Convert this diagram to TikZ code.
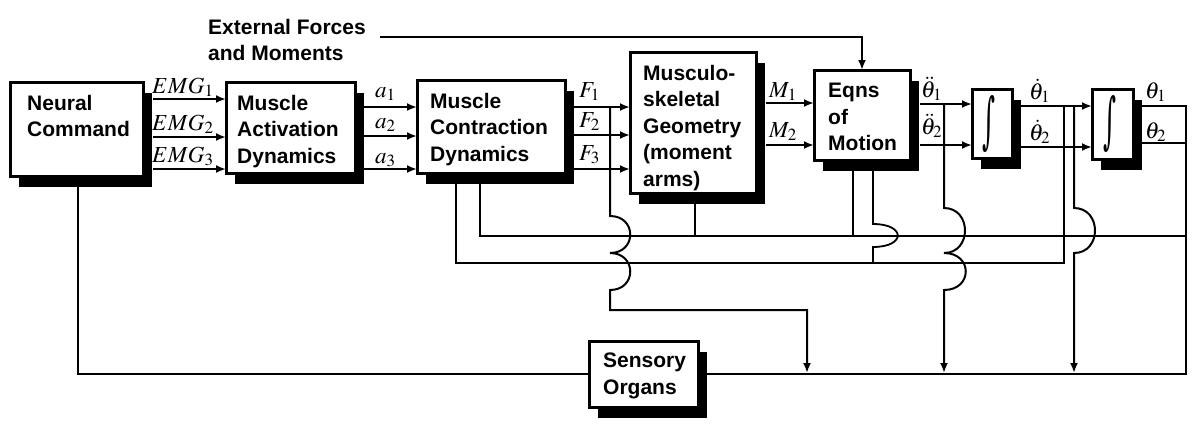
\documentclass[tikz,border=0pt]{standalone}
\usepackage{mathptmx}
\usepackage{graphicx}
\usepackage{fontspec}
\setmainfont{Liberation Serif}
\setsansfont{Liberation Sans}
\newfontfamily\intfont{DejaVu Serif}
\usetikzlibrary{arrows.meta,shadows}
\begin{document}
\begin{tikzpicture}[x=1pt,y=-1pt,
  blk/.style={draw, line width=3pt, fill=white, inner sep=0pt, outer sep=0pt, anchor=north west,
    drop shadow={shadow xshift=9pt, shadow yshift=-11pt, fill=black, opacity=1}},
  txt/.style={anchor=north west, align=left, inner sep=0pt, font=\sffamily\bfseries\fontsize{21}{26.5}\selectfont},
  lab/.style={anchor=base west, inner sep=0pt, font=\fontsize{23}{26}\selectfont},
  intsym/.style={inner sep=0pt},
  arr/.style={line width=2pt, -{Latex[length=10pt,width=8pt]}},
  fb/.style={line width=1.8pt}]
\useasboundingbox (0,0) rectangle (1201,424);
% blocks
\node[blk, minimum width=133, minimum height=94] (nc) at (10,82) {};
\node[blk, minimum width=129, minimum height=91] (mad) at (226,82) {};
\node[blk, minimum width=148, minimum height=93] (mcd) at (417,80) {};
\node[blk, minimum width=126, minimum height=141] (msg) at (630,52) {};
\node[blk, minimum width=96, minimum height=90] (eom) at (814,70) {};
\node[blk, minimum width=40, minimum height=69] (i1) at (972,89) {};
\node[blk, minimum width=41, minimum height=70] (i2) at (1092,89) {};
\node[blk, minimum width=109, minimum height=66] (so) at (589,341) {};
% block texts
\node[txt] (nct) at ([xshift=17pt,yshift=-13pt]nc.north west) {Neural\\Command};
\node[txt] (madt) at ([xshift=11pt,yshift=-13pt]mad.north west) {Muscle\\Activation\\Dynamics};
\node[txt] (mcdt) at ([xshift=13pt,yshift=-13pt]mcd.north west) {Muscle\\Contraction\\Dynamics};
\node[txt] (msgt) at ([xshift=13pt,yshift=-13pt]msg.north west) {Musculo-\\skeletal\\Geometry\\(moment\\arms)};
\node[txt] (eomt) at ([xshift=14pt,yshift=-13pt]eom.north west) {Eqns\\of\\Motion};
\node[txt] (sot) at ([xshift=14pt,yshift=-12pt]so.north west) {Sensory\\Organs};
\node[intsym] (i1t) at ([xshift=-3pt]i1.center) {\resizebox{13pt}{46pt}{\intfont ∫}};
\node[intsym] (i2t) at ([xshift=-3pt]i2.center) {\resizebox{13pt}{46pt}{\intfont ∫}};
\node[txt] (ext) at (208,19) {External Forces\\and Moments};
% signal labels
\node[lab] (le1) at (152,93) {$EMG_1$};
\node[lab] (le2) at (152,130) {$EMG_2$};
\node[lab] (le3) at (152,162) {$EMG_3$};
\node[lab] (la1) at (375,97) {$a_1$};
\node[lab] (la2) at (375,128) {$a_2$};
\node[lab] (la3) at (375,163) {$a_3$};
\node[lab] (lf1) at (579,97) {$F_1$};
\node[lab] (lf2) at (579,127) {$F_2$};
\node[lab] (lf3) at (579,160) {$F_3$};
\node[lab] (lm1) at (769,97) {$M_1$};
\node[lab] (lm2) at (769,137) {$M_2$};
\node[lab] (ldd1) at (921,97) {$\ddot{\theta}_1$};
\node[lab] (ldd2) at (921,134) {$\ddot{\theta}_2$};
\node[lab] (ld1) at (1029,99) {$\dot{\theta}_1$};
\node[lab] (ld2) at (1029,140) {$\dot{\theta}_2$};
\node[lab] (lt1) at (1145,98) {$\theta_1$};
\node[lab] (lt2) at (1145,138) {$\theta_2$};
% forward arrows
\draw[arr] (nc.east |- 0,99) ++(10,0) -- (mad.west |- 0,99);
\draw[arr] (nc.east |- 0,137) ++(10,0) -- (mad.west |- 0,137);
\draw[arr] (nc.east |- 0,169) ++(10,0) -- (mad.west |- 0,169);
\draw[arr] (mad.east |- 0,107) ++(8,0) -- (mcd.west |- 0,107);
\draw[arr] (mad.east |- 0,136) ++(8,0) -- (mcd.west |- 0,136);
\draw[arr] (mad.east |- 0,169) ++(8,0) -- (mcd.west |- 0,169);
\draw[arr] (mcd.east |- 0,107) ++(8,0) -- (msg.west |- 0,107);
\draw[arr] (mcd.east |- 0,135) ++(8,0) -- (msg.west |- 0,135);
\draw[arr] (mcd.east |- 0,169) ++(8,0) -- (msg.west |- 0,169);
\draw[arr] (msg.east |- 0,103) ++(10,0) -- (eom.west |- 0,103);
\draw[arr] (msg.east |- 0,145) ++(10,0) -- (eom.west |- 0,145);
\draw[arr] (eom.east |- 0,104) ++(10,0) -- (i1.west |- 0,104);
\draw[arr] (eom.east |- 0,145) ++(10,0) -- (i1.west |- 0,145);
\draw[arr] (i1.east |- 0,106) ++(9,0) -- (i2.west |- 0,106);
\draw[arr] (i1.east |- 0,147) ++(9,0) -- (i2.west |- 0,147);
% external forces
\coordinate (extstart) at (380,37);
\draw[arr] (extstart) -- (862,37) -- (eom.north -| 862,0);
% junction coordinates
\coordinate (jf) at (610,107);
\coordinate (jdd) at (944,104);
\coordinate (jd) at (1074,106);
\coordinate (jd2) at (1064,106);
% feedback lines
\draw[fb] (mcd.south -| 480,0) -- (480,236) -- (1186,236);
\draw[fb] (msg.south -| 695,0) -- (695,236);
\draw[fb] (eom.south -| 853,0) -- (853,236);
\draw[fb] (mcd.south -| 456,0) -- (456,263) -- (1064,263) -- (jd2);
\draw[fb] (eom.south -| 873,0) -- (873,224) .. controls (906,224) and (906,247) .. (873,247) -- (873,263);
\draw[fb] (i2.east |- 0,106) ++(9,0) -- (1186,106) -- (1186,374) -- (so.east);
\draw[fb] (i2.east |- 0,143) ++(9,0) -- (1186,143);
\draw[fb] (so.west) -- (78,374) -- (nc.south -| 78,0);
\draw[arr] (jf) -- (610,216) .. controls (637,216) and (637,253) .. (610,253)
   .. controls (637,253) and (637,290) .. (610,290) -- (610,310) -- (807,310) -- (807,373);
\draw[arr] (jdd) -- (944,208) .. controls (972,208) and (972,253) .. (944,253)
   .. controls (973,253) and (973,290) .. (944,290) -- (944,373);
\draw[arr] (jd) -- (1074,208) .. controls (1102,208) and (1102,253) .. (1074,253) -- (1074,373);
\end{tikzpicture}
\end{document}
